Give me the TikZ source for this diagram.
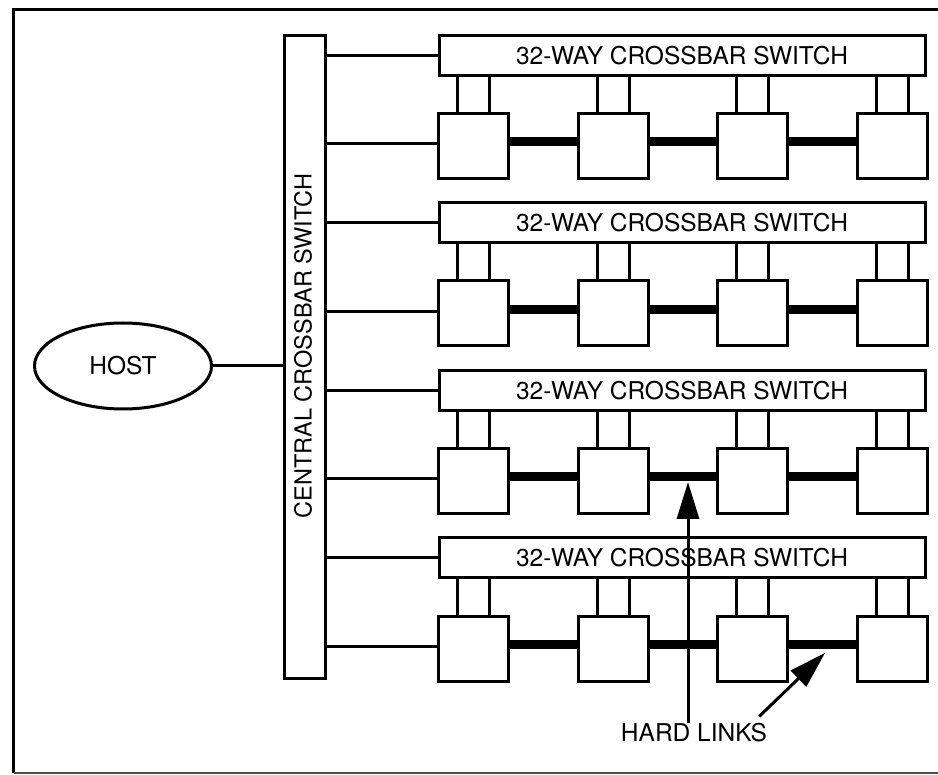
\documentclass[tikz,border=0pt]{standalone}
\usepackage{fontspec}
\setmainfont{TeX Gyre Heros}
\usetikzlibrary{arrows.meta,shapes.geometric}
\begin{document}
\begin{tikzpicture}[x=1pt,y=-1pt,
  wire/.style={line width=3pt},
  hard/.style={line width=9pt},
  lbl/.style={font=\fontsize{24.5}{28}\selectfont,inner sep=0pt},
  swbox/.style={draw,line width=3pt,minimum width=486pt,minimum height=40pt,inner sep=0pt,lbl},
  pebox/.style={draw,line width=3pt,minimum width=70pt,minimum height=65pt,inner sep=0pt},
  arr/.style={line width=3pt,-{Triangle[length=37pt,width=22pt]}}]
\useasboundingbox (0,0) rectangle (938,775);
% frame
\draw[line width=3.2pt] (950,9.5) -- (13.5,9.5) -- (13.5,773);
\draw[line width=1.4pt,black!70] (13.5,773) -- (950,773);
% central crossbar switch
\node[draw,line width=3pt,minimum width=41pt,minimum height=643pt,inner sep=0pt] (cs) at (305,357) {};
\node[lbl,rotate=90,font=\fontsize{23.5}{28}\selectfont] (cslbl) at (303,346) {CENTRAL CROSSBAR SWITCH};
% host
\node[ellipse,draw,line width=3pt,minimum width=177pt,minimum height=86pt,inner sep=0pt,lbl] (host) at (123,366) {HOST};
\draw[wire] (host.east) -- (host.east -| cs.west);
% groups
\foreach \k in {0,1,2,3}{
  \pgfmathsetmacro\yo{167.5*\k}
  \node[swbox] (s\k) at (682,55.5+\yo) {32-WAY CROSSBAR SWITCH};
  \foreach \i in {0,1,2,3}{
    \node[pebox] (b\k-\i) at (473.5+139.5*\i,146+\yo) {};
    \draw[wire] ([xshift=-16pt]b\k-\i.north) -- ++(0,-38);
    \draw[wire] ([xshift=16pt]b\k-\i.north) -- ++(0,-38);
  }
  \draw[hard] ([yshift=4pt]b\k-0.east) -- ([yshift=4pt]b\k-1.west);
  \draw[hard] ([yshift=4pt]b\k-1.east) -- ([yshift=4pt]b\k-2.west);
  \draw[hard] ([yshift=4pt]b\k-2.east) -- ([yshift=4pt]b\k-3.west);
  \draw[wire] (cs.east |- s\k.west) -- (s\k.west);
  \draw[wire] ([yshift=2pt]cs.east |- b\k-0.west) -- ([yshift=2pt]b\k-0.west);
}
% hard links label and arrows
\node[lbl] (hl) at (694,733) {HARD LINKS};
\coordinate (t1) at (688,482);
\coordinate (t2) at (825,653);
\draw[arr] (hl.north -| t1) -- (t1);
\draw[arr] ([shift={(-8pt,7pt)}]hl.north east) -- (t2);
\end{tikzpicture}
\end{document}
